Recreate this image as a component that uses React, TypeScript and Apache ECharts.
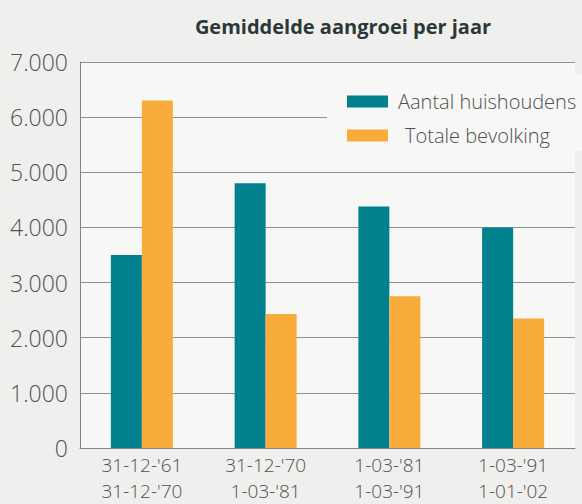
import React, { useEffect, useRef } from "react";
import * as echarts from "echarts";

const categories = ["31-12-'61\n31-12-'70", "31-12-'70\n1-03-'81", "1-03-'81\n1-03-'91", "1-03-'91\n1-01-'02"];
const huishoudens = [3500, 4800, 4380, 4000];
const bevolking = [6300, 2430, 2750, 2350];
const seriesNames = ["Aantal huishoudens", "Totale bevolking"];
const title = "Gemiddelde aangroei per jaar";

export default function App() {
  const ref = useRef<HTMLDivElement>(null);
  useEffect(() => {
    if (!ref.current) return;
    const chart = echarts.init(ref.current, undefined, { renderer: "svg" });
    const font = "'Open Sans', 'Noto Sans', sans-serif";
    chart.setOption({
      animation: false,
      backgroundColor: "#efefed",
      textStyle: { fontFamily: font },
      title: {
        text: title,
        left: 338,
        textAlign: "center",
        top: 11,
        textStyle: { fontSize: 20, fontWeight: "bold", color: "#2b3838", fontFamily: font },
      },
      grid: {
        left: 80,
        right: 7,
        top: 62,
        bottom: 55,
        show: true,
        backgroundColor: "#f7f7f6",
        borderWidth: 0,
      },
      legend: {
        orient: "vertical",
        left: 342,
        top: 85,
        itemWidth: 41,
        itemHeight: 12,
        itemGap: 11,
        icon: "rect",
        z: 5,
        formatter: (name: string) => (name === seriesNames[1] ? `{b|${name}}` : `{a|${name}}`),
        textStyle: {
          fontSize: 20,
          lineHeight: 23,
          color: "#505050",
          fontWeight: 300,
          fontFamily: font,
          rich: {
            a: { fontSize: 20, lineHeight: 23, color: "#505050", fontWeight: 300, fontFamily: font, padding: [0, 0, 0, 5] },
            b: { fontSize: 20, lineHeight: 23, color: "#505050", fontWeight: 300, fontFamily: font, padding: [0, 0, 0, 12] },
          },
        },
        data: seriesNames,
      },
      graphic: [
        {
          type: "rect",
          left: 327,
          top: 75,
          z: 3,
          shape: { width: 255, height: 76 },
          style: { fill: "#f7f7f6" },
        },
      ],
      xAxis: {
        type: "category",
        data: categories,
        axisTick: { show: false },
        axisLine: { lineStyle: { color: "#7d8585", width: 1 } },
        axisLabel: { fontSize: 19, lineHeight: 26, color: "#505050", fontWeight: 300, margin: 4, fontFamily: font },
      },
      yAxis: {
        type: "value",
        min: 0,
        max: 7000,
        interval: 1000,
        axisLine: { show: true, lineStyle: { color: "#7d8585", width: 1 } },
        axisTick: { show: false },
        splitLine: { lineStyle: { color: "#8a9292", width: 1 } },
        axisLabel: {
          fontSize: 23,
          color: "#505050",
          fontWeight: 300,
          margin: 12,
          fontFamily: font,
          formatter: (v: number) => (v === 0 ? "0" : `${v / 1000}.000`),
        },
      },
      series: [
        {
          name: seriesNames[0],
          type: "bar",
          data: huishoudens,
          barWidth: 31,
          barGap: "0%",
          itemStyle: { color: "#00818d" },
        },
        {
          name: seriesNames[1],
          type: "bar",
          data: bevolking,
          barWidth: 31,
          barGap: "0%",
          itemStyle: { color: "#f9ac3c" },
        },
      ],
    });
    return () => chart.dispose();
  }, []);
  return <div ref={ref} style={{ position: "fixed", left: 0, top: 0, width: 582, height: 504 }} />;
}
